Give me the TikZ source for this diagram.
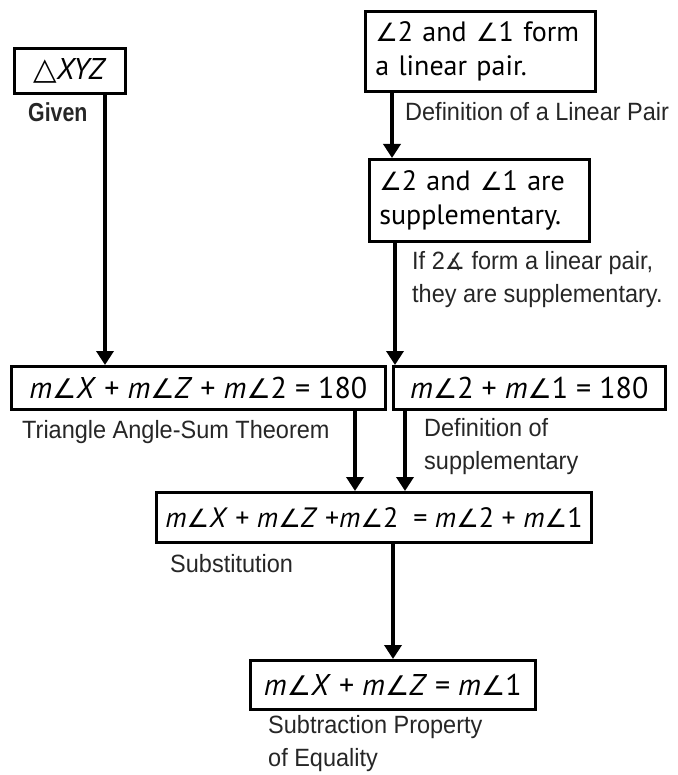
\documentclass[tikz,border=0pt]{standalone}
\usepackage{fontspec}
\usepackage{tikz}
\usetikzlibrary{arrows.meta}
\setmainfont{PT Sans}
\newfontfamily\symfont[Scale=0.9]{DejaVu Sans}
\newfontfamily\reasonfont[FakeStretch=0.94]{Liberation Sans}
\newfontfamily\givenfont[FakeStretch=0.82]{Liberation Sans}
\newcommand\angl{{\symfont ∠}}
\newcommand\angls{{\symfont ∡}}
\newcommand\tri{{\symfont\fontsize{34}{34}\selectfont △}}
\newcommand\mv[1]{\textit{#1}}

\tikzset{
  stmt/.style={draw, line width=2.6pt, anchor=north west, inner xsep=9pt, inner ysep=0pt,
    font=\fontsize{28}{34}\selectfont, align=center},
  eqn/.style={stmt, font=\fontsize{30}{34}\selectfont},
  reason/.style={anchor=west, inner sep=0pt, align=left, text=black!85,
    font=\reasonfont\fontsize{25}{33}\selectfont},
  proof/.style={line width=3.6pt, -{Triangle[width=17pt,length=14pt]}}
}

\begin{document}
\begin{tikzpicture}[x=1pt,y=-1pt]
  \useasboundingbox (0,0) rectangle (677,775);

  % statements
  \node[eqn, minimum width=111pt, minimum height=45pt] (xyz) at (13,47) {\tri\mv{XYZ}};
  \node[stmt, minimum width=230pt, minimum height=80pt, text width=210pt, align=left] (lin) at (364,10)
    {\angl2 and \angl1 form\\a linear pair.};
  \node[stmt, minimum width=220pt, minimum height=82pt, text width=200pt, align=left] (supp) at (368,158)
    {\angl2 and \angl1 are\\supplementary.};
  \node[eqn, minimum width=374pt, minimum height=43pt] (sum) at (10,365)
    {\mv{m}\angl\mv{X} + \mv{m}\angl\mv{Z} + \mv{m}\angl2 = 180};
  \node[eqn, minimum width=272pt, minimum height=43pt] (pair) at (392,365)
    {\mv{m}\angl2 + \mv{m}\angl1 = 180};
  \node[stmt, minimum width=392pt, minimum height=50pt] (subst) at (155,491)
    {\mv{m}\angl\mv{X} + \mv{m}\angl\mv{Z} +\mv{m}\angl2 \ = \mv{m}\angl2 + \mv{m}\angl1};
  \node[eqn, minimum width=285pt, minimum height=49pt] (res) at (249,659)
    {\mv{m}\angl\mv{X} + \mv{m}\angl\mv{Z} = \mv{m}\angl1};

  % reasons
  \node[reason, font=\givenfont\bfseries\fontsize{26}{33}\selectfont] (given) at (28,112) {Given};
  \node[reason] (deflin) at (405,112) {Definition of a Linear Pair};
  \node[reason] (iflin) at (412,280) {If 2\angls{} form a linear pair,\\they are supplementary.};
  \node[reason] (tri) at (22,432) {Triangle Angle-Sum Theorem};
  \node[reason] (defsupp) at (424,447) {Definition of\\supplementary};
  \node[reason] (subs) at (170,564) {Substitution};
  \node[reason] (subtr) at (268,744) {Subtraction Property\\of Equality};

  % arrows
  \coordinate (a1) at ([xshift=92pt]xyz.south west);
  \coordinate (a2) at ([xshift=28pt]lin.south west);
  \coordinate (a3) at ([xshift=27pt]supp.south west);
  \coordinate (a4) at ([xshift=345pt]sum.south west);
  \coordinate (a5) at ([xshift=13pt]pair.south west);
  \coordinate (a6) at ([xshift=238pt]subst.south west);
  \draw[proof] (a1) -- (a1 |- sum.north);
  \draw[proof] (a2) -- (a2 |- supp.north);
  \draw[proof] (a3) -- (a3 |- pair.north);
  \draw[proof] (a4) -- (a4 |- subst.north);
  \draw[proof] (a5) -- (a5 |- subst.north);
  \draw[proof] (a6) -- (a6 |- res.north);
\end{tikzpicture}
\end{document}
